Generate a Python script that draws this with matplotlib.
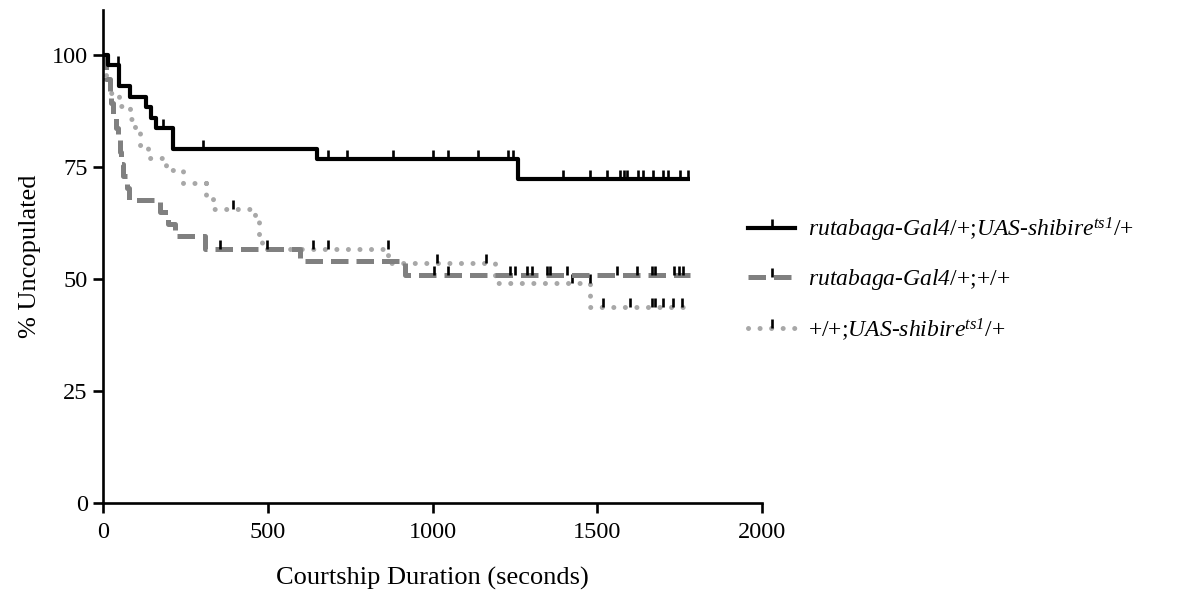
import numpy as np
import matplotlib
matplotlib.use("Agg")
import matplotlib.pyplot as plt
from matplotlib.path import Path

plt.rcParams['font.family'] = 'Liberation Serif'
plt.rcParams['mathtext.fontset'] = 'custom'
plt.rcParams['mathtext.rm'] = 'Liberation Serif'
plt.rcParams['mathtext.it'] = 'Liberation Serif:italic'
# \mathbf is used as "italic incl. digits" for the genotype labels
plt.rcParams['mathtext.bf'] = 'Liberation Serif:italic'

# Kaplan-Meier steps (time in s, % uncopulated)
end_time = 1780

blk_t = [0, 15, 47, 82, 131, 145, 160, 212, 650, 1258]
blk_s = [100, 97.7, 93.0, 90.7, 88.4, 86.0, 83.7, 79.1, 76.7, 72.3]
blk_cens = [44, 183, 303, 683, 740, 880, 1002, 1047, 1139, 1230, 1244, 1397,
            1478, 1529, 1569, 1580, 1590, 1624, 1637, 1669, 1700, 1715, 1751, 1775]

dsh_t = [0, 3, 8, 20, 25, 30, 40, 45, 50, 55, 62, 72, 78, 173, 197, 218, 310, 598, 917]
dsh_s = [100, 97.3, 94.6, 91.9, 89.2, 86.5, 83.8, 81.1, 78.4, 75.7, 73.0, 70.3, 67.6,
         64.9, 62.2, 59.5, 56.8, 54.0, 50.8]
dsh_cens = [355, 498, 1003, 1048, 1235, 1251, 1286, 1302, 1347, 1357, 1407, 1559,
            1620, 1665, 1675, 1731, 1746, 1761]

dot_t = [0, 3, 8, 20, 48, 82, 97, 112, 137, 191, 243, 312, 335, 462, 472, 482, 866, 1190, 1478]
dot_s = [100, 97.1, 94.3, 91.4, 88.6, 85.7, 82.9, 80.0, 77.1, 74.3, 71.4, 68.6, 65.7,
         62.7, 59.7, 56.7, 53.6, 49.1, 43.8]
dot_cens = [395, 637, 683, 864, 1013, 1162, 1423, 1476, 1517, 1599, 1666, 1675, 1700, 1730, 1757]

labels = [
    r'$\mathbf{rutabaga}\text{-}\mathbf{Gal4}\text{/+;}\mathbf{UAS}\text{-}\mathbf{shibire}^{\mathbf{ts1}}\text{/+}$',
    r'$\mathbf{rutabaga}\text{-}\mathbf{Gal4}\text{/+;+/+}$',
    r'$\text{+/+;}\mathbf{UAS}\text{-}\mathbf{shibire}^{\mathbf{ts1}}\text{/+}$',
]

# upward censor tick
tick_marker = Path([(0, 0), (0, 1)], [Path.MOVETO, Path.LINETO])


def survival_at(times, surv, x):
    idx = np.searchsorted(times, x, side='right') - 1
    return np.array(surv)[idx]


fig = plt.figure(figsize=(11.91, 5.94), dpi=100)
ax = fig.add_axes([0.0865, 0.153, 0.5535, 0.83])

series = [
    (dot_t, dot_s, dot_cens, dict(color='#a8a8a8', lw=3.6, ls=(0, (0.01, 2.3)), dash_capstyle='round'), labels[2]),
    (dsh_t, dsh_s, dsh_cens, dict(color='#808080', lw=3.6, ls=(0, (3.5, 1.6))), labels[1]),
    (blk_t, blk_s, blk_cens, dict(color='black', lw=3.0, ls='-'), labels[0]),
]

handles = {}
for t, s, cens, style, lab in series:
    tt = list(t) + [end_time]
    ss = list(s) + [s[-1]]
    ax.step(tt, ss, where='post', solid_capstyle='butt', **style)
    ax.plot(cens, survival_at(t, s, cens), ls='none', marker=tick_marker,
            ms=13, mew=1.9, mec='black', mfc='black')
    h, = ax.plot([], [], marker=tick_marker, ms=13, mew=1.9, mec='black', **style)
    handles[lab] = h

ax.set_xlim(0, 2000)
ax.set_ylim(0, 110)
ax.set_xticks([0, 500, 1000, 1500, 2000])
ax.set_yticks([0, 25, 50, 75, 100])
for side in ['top', 'right']:
    ax.spines[side].set_visible(False)
for side in ['left', 'bottom']:
    ax.spines[side].set_linewidth(1.9)
ax.tick_params(direction='out', length=7.5, width=1.9, labelsize=17.5)
ax.tick_params(axis='x', pad=6)
ax.set_xlabel('Courtship Duration (seconds)', fontsize=19, labelpad=17)
ax.set_ylabel('% Uncopulated', fontsize=19, labelpad=8)

fig.legend([handles[l] for l in labels], labels, loc='center left',
           bbox_to_anchor=(0.628, 0.53), frameon=False, fontsize=17,
           handlelength=2.0, handletextpad=0.55, labelspacing=1.0,
           borderpad=0, borderaxespad=0)

fig.savefig('out.png', dpi=100)
